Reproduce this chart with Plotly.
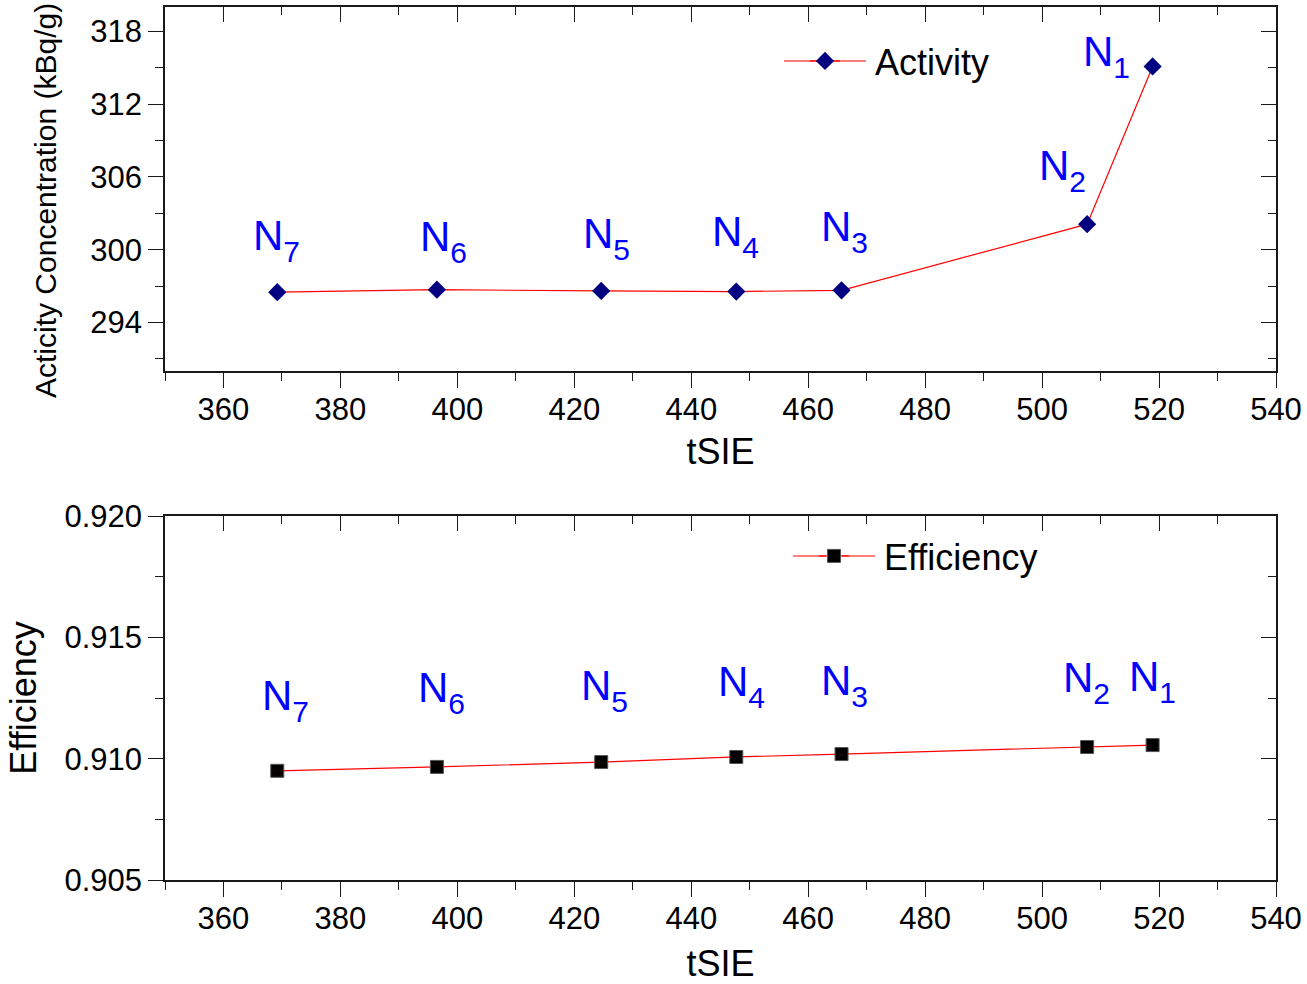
import plotly.graph_objects as go

# ---------------- data ----------------
tsie = [369.2, 396.5, 424.6, 447.7, 465.7, 507.7, 518.9]
activity = [296.5, 296.7, 296.6, 296.55, 296.65, 302.1, 315.1]
efficiency = [0.90950, 0.90966, 0.90986, 0.91007, 0.91019, 0.91048, 0.91056]
label_index = ["7", "6", "5", "4", "3", "2", "1"]
x_ticks = [360, 380, 400, 420, 440, 460, 480, 500, 520, 540]
x_minor = [350, 370, 390, 410, 430, 450, 470, 490, 510, 530]
act_ticks = [294, 300, 306, 312, 318]
act_minor = [291, 297, 303, 309, 315]
eff_ticks = [0.905, 0.910, 0.915, 0.920]
eff_minor = [0.9075, 0.9125, 0.9175]

# ---------------- style / layout ----------------
FONT = "Liberation Sans, Arial, sans-serif"
AX = "#1a1a1a"
NBSP = "\u00a0"
# pixel offsets of the N labels relative to their points
top_off = [(-1, 52), (7, 49), (5, 53), (-1, 56), (3, 59), (-25, 54), (-46, 10)]
bot_off = [(8, 71), (5, 75), (3, 72), (5, 71), (3, 69), (-1, 65), (0, 64)]

def n_label(i):
    return ("N<span style='font-size:30px;baseline-shift:-12px'>" + i + "</span>")

W, H = 1307, 984
L, R, T, B = 165, 31, 7, 104
PW = W - L - R
PH = H - T - B
top_dom = [(880 - 371) / PH, 1.0]
bot_dom = [0.0, (880 - 516) / PH]

def px_x(p):
    return (p - L) / PW

def px_y(p):
    return (H - B - p) / PH

fig = go.Figure()
fig.add_trace(go.Scatter(
    x=tsie, y=activity, mode="lines+markers", name=NBSP * 3 + "Activity",
    line=dict(color="#ff0000", width=1.2),
    marker=dict(symbol="diamond", size=14, color="#000080"),
    xaxis="x", yaxis="y", legend="legend"))
fig.add_trace(go.Scatter(
    x=tsie, y=efficiency, mode="lines+markers", name=NBSP * 3 + "Efficiency",
    line=dict(color="#ff0000", width=1.2),
    marker=dict(symbol="square", size=13, color="#000000",
                line=dict(color="#555555", width=1)),
    xaxis="x2", yaxis="y2", legend="legend2"))
# empty traces so that the mirrored (top / right) frame axes get drawn
for xa, ya in (("x3", "y3"), ("x4", "y4")):
    fig.add_trace(go.Scatter(x=[], y=[], xaxis=xa, yaxis=ya, showlegend=False,
                             hoverinfo="skip", mode="markers"))

ann = []
for xv, yv, lab, (dx, dy) in zip(tsie, activity, label_index, top_off):
    ann.append(dict(x=xv, y=yv, xref="x", yref="y", text=n_label(lab), showarrow=False,
                    xshift=dx, yshift=dy, font=dict(family=FONT, size=42, color="#0000ff")))
for xv, yv, lab, (dx, dy) in zip(tsie, efficiency, label_index, bot_off):
    ann.append(dict(x=xv, y=yv, xref="x2", yref="y2", text=n_label(lab), showarrow=False,
                    xshift=dx, yshift=dy, font=dict(family=FONT, size=42, color="#0000ff")))
# y title of the top panel (placed like the reference, slightly below centre)
ann.append(dict(x=px_x(45), y=px_y(201), xref="paper", yref="paper",
                text="Acticity Concentration (kBq/g)", textangle=-90, showarrow=False,
                xanchor="center", yanchor="middle",
                font=dict(family=FONT, size=30, color="#000")))

tickfont = dict(family=FONT, size=31, color="#000000")

def xax(anchor, title, standoff):
    return dict(domain=[0, 1], anchor=anchor, range=[350, 540], automargin=False,
                tickvals=x_ticks, ticks="outside", ticklen=15, tickwidth=1.3,
                ticklabelstandoff=-5,
                tickcolor=AX, showline=True, linecolor=AX, linewidth=1.5,
                showgrid=False, zeroline=False, tickfont=tickfont,
                minor=dict(tickvals=x_minor, ticks="outside", ticklen=8, tickwidth=1.3,
                           tickcolor=AX, showgrid=False),
                title=dict(text=title, font=dict(family=FONT, size=36, color="#000"),
                           standoff=standoff))

def xmirror(overlay, anchor):
    return dict(overlaying=overlay, anchor=anchor, side="top", range=[350, 540],
                automargin=False,
                tickvals=x_ticks, ticks="inside", ticklen=15, tickwidth=1.3,
                tickcolor=AX, showline=True, linecolor=AX, linewidth=1.5,
                showgrid=False, zeroline=False, showticklabels=False,
                minor=dict(tickvals=x_minor, ticks="inside", ticklen=8, tickwidth=1.3,
                           tickcolor=AX, showgrid=False))

def yax(dom, anchor, rng, tv, minor_v, fmt, title, tsize, standoff):
    return dict(domain=dom, anchor=anchor, range=rng, tickvals=tv, tickformat=fmt,
                automargin=False,
                ticks="outside", ticklen=15, tickwidth=1.3, tickcolor=AX,
                showline=True, linecolor=AX, linewidth=1.5, showgrid=False,
                zeroline=False, tickfont=tickfont,
                minor=dict(tickvals=minor_v, ticks="outside", ticklen=8, tickwidth=1.3,
                           tickcolor=AX, showgrid=False),
                title=dict(text=title, font=dict(family=FONT, size=tsize, color="#000"),
                           standoff=standoff))

def ymirror(overlay, anchor, dom, rng, tv, minor_v):
    return dict(overlaying=overlay, anchor=anchor, side="right", range=rng, tickvals=tv,
                domain=dom, automargin=False,
                ticks="inside", ticklen=15, tickwidth=1.3, tickcolor=AX,
                showline=True, linecolor=AX, linewidth=1.5, showgrid=False,
                zeroline=False, showticklabels=False,
                minor=dict(tickvals=minor_v, ticks="inside", ticklen=8, tickwidth=1.3,
                           tickcolor=AX, showgrid=False))

# legend marker centres (px) in the reference
leg1 = (825, 61)
leg2 = (834, 556)

shapes = []
for (mx, my) in (leg1, leg2):
    for a, b in ((-41, -8), (8, 41)):
        shapes.append(dict(type="line", xref="paper", yref="paper",
                           xsizemode="pixel", ysizemode="pixel",
                           xanchor=px_x(mx), yanchor=px_y(my),
                           x0=a, x1=b, y0=0, y1=0,
                           line=dict(color="#ff0000", width=1.2)))

fig.update_layout(
    width=W, height=H, autosize=False,
    margin=dict(l=L, r=R, t=T, b=B, autoexpand=False),
    paper_bgcolor="white", plot_bgcolor="white",
    font=dict(family=FONT, color="#000"),
    xaxis=xax("y", "tSIE", 13),
    xaxis2=xax("y2", "tSIE", 19),
    xaxis3=xmirror("x", "y3"),
    xaxis4=xmirror("x2", "y4"),
    yaxis=yax(top_dom, "x", [290, 320], act_ticks, act_minor, "d", "", 30, 26),
    yaxis2=yax(bot_dom, "x2", [0.905, 0.920], eff_ticks, eff_minor, ".3f",
               "Efficiency", 36, 17),
    yaxis3=ymirror("y", "x3", top_dom, [290, 320], act_ticks, act_minor),
    yaxis4=ymirror("y2", "x4", bot_dom, [0.905, 0.920], eff_ticks, eff_minor),
    legend=dict(x=px_x(leg1[0] - 20), y=px_y(leg1[1]), xanchor="left", yanchor="middle",
                bgcolor="rgba(0,0,0,0)", borderwidth=0,
                font=dict(family=FONT, size=36, color="#000")),
    legend2=dict(x=px_x(leg2[0] - 20), y=px_y(leg2[1]), xanchor="left", yanchor="middle",
                 bgcolor="rgba(0,0,0,0)", borderwidth=0,
                 font=dict(family=FONT, size=36, color="#000")),
    annotations=ann,
    shapes=shapes,
    showlegend=True,
)

fig.write_html("out.html")
